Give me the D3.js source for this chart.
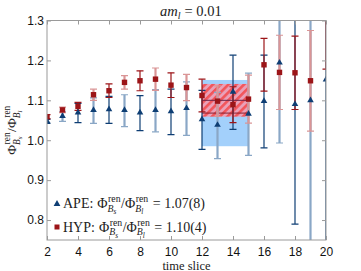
<!DOCTYPE html>
<html><head><meta charset="utf-8">
<script src="https://cdn.jsdelivr.net/npm/d3@7"></script>
<style>body{margin:0;background:#fff}svg{display:block}</style>
</head><body>
<script>
const times = [2,3,4,5,6,7,8,9,10,11,12,13,14,15,16,17,18,19,20];
const apeVal = [1.047,1.059,1.068,1.074,1.076,1.074,1.068,1.074,1.071,1.079,1.051,1.037,1.120,1.065,1.097,1.193,1.089,1.099,1.151];
const apeErr = [0.005,0.012,0.024,0.032,0.034,0.040,0.044,0.053,0.057,0.067,0.074,0.083,0.093,0.103,0.116,0.200,0.299,0.500,0.500];
const hypVal = [1.059,1.076,1.085,1.114,1.124,1.145,1.149,1.153,1.138,1.132,1.112,1.098,1.089,1.103,1.189,1.170,1.169,1.149,1.450];
const hypErr = [0.005,0.007,0.010,0.014,0.017,0.017,0.025,0.028,0.031,0.033,0.041,0.038,0.045,0.060,0.066,0.093,0.092,0.126,0.272];
const xTicks = [2,4,6,8,10,12,14,16,18,20];
const yTicks = [0.8,0.9,1.0,1.1,1.2,1.3];
const apeFit = {val:1.068, err:0.083, from:12, to:15};
const hypFit = {val:1.100, err:0.041, from:12, to:15};

const W=361,H=271;
const m={l:47,r:35,t:20.5,b:31};
const svg=d3.select("body").append("svg").attr("width",W).attr("height",H);
const x=d3.scaleLinear().domain([2,20]).range([m.l,W-m.r]);
const y=d3.scaleLinear().domain([0.75,1.3]).range([H-m.b,m.t]);

const blueD="#0e3e74", blueL="#8aa7c6", redD="#9c1518", redL="#da9596";
const defs=svg.append("defs");
defs.append("clipPath").attr("id","clip").append("rect")
  .attr("x",m.l).attr("y",m.t).attr("width",x(20)-m.l).attr("height",y(0.75)-m.t);
const pat=defs.append("pattern").attr("id","hatch").attr("patternUnits","userSpaceOnUse")
  .attr("width",5.5).attr("height",5.5).attr("patternTransform","rotate(45)");
pat.append("rect").attr("width",5.5).attr("height",5.5).attr("fill","#eaa0b8");
pat.append("rect").attr("width",2.6).attr("height",5.5).attr("fill","#f2555a");

const plot=svg.append("g").attr("clip-path","url(#clip)");
// fit bands
plot.append("rect").attr("x",x(apeFit.from)).attr("width",x(apeFit.to)-x(apeFit.from))
  .attr("y",y(apeFit.val+apeFit.err)).attr("height",y(apeFit.val-apeFit.err)-y(apeFit.val+apeFit.err))
  .attr("fill","#a3d0fb");
plot.append("rect").attr("x",x(hypFit.from)).attr("width",x(hypFit.to)-x(hypFit.from))
  .attr("y",y(hypFit.val+hypFit.err)).attr("height",y(hypFit.val-hypFit.err)-y(hypFit.val+hypFit.err))
  .attr("fill","url(#hatch)");
plot.append("line").attr("x1",x(hypFit.from)).attr("x2",x(hypFit.to))
  .attr("y1",y(hypFit.val)).attr("y2",y(hypFit.val)).attr("stroke","#6a2448").attr("stroke-width",1);
plot.append("line").attr("x1",x(apeFit.from)).attr("x2",x(apeFit.to))
  .attr("y1",y(apeFit.val)).attr("y2",y(apeFit.val)).attr("stroke","#8a2030").attr("stroke-width",1);

function bars(vals,errs,dark,light){
  times.forEach((t,i)=>{
    const odd=t%2===1;
    const c=odd?light:dark, sw=odd?2.2:1.2;
    const g=plot.append("g").attr("stroke",c).attr("stroke-width",sw);
    const lo=vals[i]-errs[i], hi=vals[i]+errs[i];
    g.append("line").attr("x1",x(t)).attr("x2",x(t)).attr("y1",y(lo)).attr("y2",y(hi));
    g.append("line").attr("x1",x(t)-3.5).attr("x2",x(t)+3.5).attr("y1",y(lo)).attr("y2",y(lo)).attr("stroke-width",1.2);
    g.append("line").attr("x1",x(t)-3.5).attr("x2",x(t)+3.5).attr("y1",y(hi)).attr("y2",y(hi)).attr("stroke-width",1.2);
  });
}
bars(apeVal,apeErr,blueD,blueL);
bars(hypVal,hypErr,redD,redL);
const tri=d3.symbol().type(d3.symbolTriangle).size(19);
plot.selectAll(".tri").data(times).join("path")
  .attr("transform",(t,i)=>`translate(${x(t)},${y(apeVal[i])-0.5})`).attr("d",tri).attr("fill",blueD);
plot.selectAll(".sq").data(times).join("rect")
  .attr("x",(t)=>x(t)-2.7).attr("y",(t,i)=>y(hypVal[i])-2.7).attr("width",5.4).attr("height",5.4).attr("fill",redD);

// frame
const axc="#9a9a9a";
svg.append("rect").attr("x",m.l).attr("y",m.t).attr("width",x(20)-m.l).attr("height",y(0.75)-m.t)
  .attr("fill","none").attr("stroke",axc).attr("stroke-width",1);
const fnt="'Liberation Sans', Arial, sans-serif";
const ax=svg.append("g").attr("transform",`translate(0,${y(0.75)})`)
  .call(d3.axisBottom(x).tickValues(xTicks).tickSize(-4).tickPadding(7).tickFormat(d3.format("d")));
const ax2=svg.append("g").attr("transform",`translate(0,${m.t})`)
  .call(d3.axisTop(x).tickValues(xTicks).tickSize(-4).tickFormat(""));
const ay=svg.append("g").attr("transform",`translate(${m.l},0)`)
  .call(d3.axisLeft(y).tickValues(yTicks).tickSize(-4).tickPadding(3).tickFormat(d3.format(".1f")));
const ay2=svg.append("g").attr("transform",`translate(${x(20)},0)`)
  .call(d3.axisRight(y).tickValues(yTicks).tickSize(-4).tickFormat(""));
[ax,ax2,ay,ay2].forEach(a=>{a.select(".domain").remove();a.selectAll("line").attr("stroke",axc);
  a.selectAll("text").attr("font-family",fnt).attr("font-size",12).attr("fill","#111");});

const serif="'Liberation Serif', 'Times New Roman', serif";
// math helper
function txt(g,x0,y0,s,fs,italic){
  const t=g.append("text").attr("x",x0).attr("y",y0).attr("font-family",serif).attr("font-size",fs)
    .attr("font-style",italic?"italic":"normal").attr("fill","#222").text(s);
  return t.node().getComputedTextLength();
}
function phi(g,x0,y0,fs,sub){
  let cx=x0;
  cx+=txt(g,cx,y0,"Φ",fs,false);
  const w1=txt(g,cx+0.5,y0-fs*0.42,"ren",fs*0.7,false);
  let w2=txt(g,cx,y0+fs*0.28,"B",fs*0.7,true);
  w2+=txt(g,cx+w2,y0+fs*0.45,sub,fs*0.52,true);
  return cx+Math.max(w1,w2)+1-x0;
}
function ratio(g,x0,y0,fs){
  let cx=x0;
  cx+=phi(g,cx,y0,fs,"s");
  cx+=txt(g,cx,y0,"/",fs,false);
  cx+=phi(g,cx,y0,fs,"l");
  return cx-x0;
}
// legend
const fsL=14;
const lg=svg.append("g");
lg.append("path").attr("transform",`translate(57,204)`).attr("d",d3.symbol().type(d3.symbolTriangle).size(20)).attr("fill",blueD);
lg.append("rect").attr("x",54.5).attr("y",224.5).attr("width",5).attr("height",5).attr("fill",redD);
let cx=63;
cx+=txt(lg,cx,208,"APE:",fsL,false)+4;
cx+=ratio(lg,cx,208,fsL);
txt(lg,cx+4,208,"= 1.07(8)",fsL,false);
cx=63;
cx+=txt(lg,cx,231.5,"HYP:",fsL,false)+4;
cx+=ratio(lg,cx,231.5,fsL);
txt(lg,cx+4,231.5,"= 1.10(4)",fsL,false);

// title
const tg=svg.append("g");
let tx=160;
tx+=txt(tg,tx,16,"am",14.5,true);
tx+=txt(tg,tx,19,"l",10,true);
txt(tg,tx+4,16,"= 0.01",14.5,false);

// x label
svg.append("text").attr("x",(m.l+x(20))/2).attr("y",269.5).attr("text-anchor","middle")
  .attr("font-family",serif).attr("font-size",12.5).attr("fill","#222").text("time slice");
// y label
const yg=svg.append("g");
const wy=ratio(yg,0,0,13.5);
yg.attr("transform",`translate(16,${130+wy/2}) rotate(-90)`);
</script>
</body></html>
